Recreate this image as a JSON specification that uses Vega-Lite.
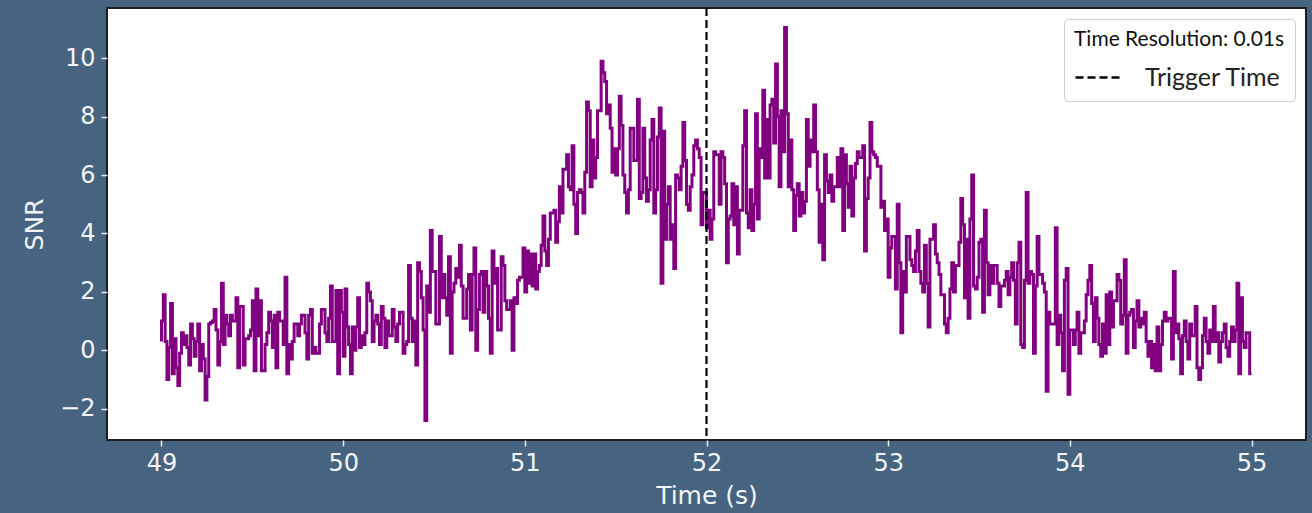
{
"$schema": "https://vega.github.io/schema/vega-lite/v6.json",
"width": 1199,
"height": 432,
"autosize": {"type": "none"},
"padding": {"left": 107, "top": 8, "right": 6, "bottom": 73},
"background": "#466480",
"config": {
  "view": {"fill": "white", "stroke": "#1c1c1c", "strokeWidth": 2},
  "axis": {"grid": false, "domain": false, "labelFont": "DejaVu Sans", "labelFontSize": 24, "labelColor": "#f2f4f6", "tickColor": "#e8ecef", "tickSize": 6, "tickWidth": 1.5, "titleFont": "DejaVu Sans", "titleFontSize": 25, "titleFontWeight": "normal", "titleColor": "#f2f4f6"}
},
"layer": [
  {
    "data": {"values": [
{"t":49.00,"v":0.3},{"t":49.01,"v":1.0},{"t":49.02,"v":1.9},{"t":49.03,"v":0.3},{"t":49.04,"v":-1.0},{"t":49.05,"v":0.1},{"t":49.06,"v":1.6},{"t":49.07,"v":-0.8},{"t":49.08,"v":0.4},{"t":49.09,"v":-0.6},
{"t":49.10,"v":-1.2},{"t":49.11,"v":-0.1},{"t":49.12,"v":0.6},{"t":49.13,"v":0.2},{"t":49.14,"v":0.5},{"t":49.15,"v":0.1},{"t":49.16,"v":-0.5},{"t":49.17,"v":0.9},{"t":49.18,"v":0.4},{"t":49.19,"v":-0.2},
{"t":49.20,"v":0.3},{"t":49.21,"v":0.9},{"t":49.22,"v":-0.7},{"t":49.23,"v":0.2},{"t":49.24,"v":-0.3},{"t":49.25,"v":-1.7},{"t":49.26,"v":-0.9},{"t":49.27,"v":0.9},{"t":49.28,"v":0.95},{"t":49.29,"v":1.0},
{"t":49.30,"v":1.4},{"t":49.31,"v":0.7},{"t":49.32,"v":-0.5},{"t":49.33,"v":0.3},{"t":49.34,"v":2.3},{"t":49.35,"v":0.2},{"t":49.36,"v":1.2},{"t":49.37,"v":0.9},{"t":49.38,"v":0.5},{"t":49.39,"v":1.2},
{"t":49.40,"v":1.0},{"t":49.41,"v":1.0},{"t":49.42,"v":1.8},{"t":49.43,"v":-0.6},{"t":49.44,"v":1.5},{"t":49.45,"v":1.5},{"t":49.46,"v":-0.5},{"t":49.47,"v":0.4},{"t":49.48,"v":0.4},{"t":49.49,"v":0.5},
{"t":49.50,"v":0.7},{"t":49.51,"v":1.7},{"t":49.52,"v":-0.7},{"t":49.53,"v":2.1},{"t":49.54,"v":0.5},{"t":49.55,"v":1.7},{"t":49.56,"v":-0.7},{"t":49.57,"v":-0.7},{"t":49.58,"v":0.2},{"t":49.59,"v":0.6},
{"t":49.60,"v":1.3},{"t":49.61,"v":1.0},{"t":49.62,"v":0.1},{"t":49.63,"v":1.2},{"t":49.64,"v":-0.6},{"t":49.65,"v":1.3},{"t":49.66,"v":1.0},{"t":49.67,"v":1.0},{"t":49.68,"v":0.2},{"t":49.69,"v":2.5},
{"t":49.70,"v":-0.8},{"t":49.71,"v":0.2},{"t":49.72,"v":-0.3},{"t":49.73,"v":0.3},{"t":49.74,"v":0.9},{"t":49.75,"v":0.9},{"t":49.76,"v":0.5},{"t":49.77,"v":0.9},{"t":49.78,"v":1.2},{"t":49.79,"v":1.2},
{"t":49.80,"v":0.6},{"t":49.81,"v":-0.3},{"t":49.82,"v":1.2},{"t":49.83,"v":1.4},{"t":49.84,"v":-0.1},{"t":49.85,"v":0.1},{"t":49.86,"v":-0.1},{"t":49.87,"v":-0.1},{"t":49.88,"v":0.9},{"t":49.89,"v":1.4},
{"t":49.90,"v":1.4},{"t":49.91,"v":0.6},{"t":49.92,"v":0.3},{"t":49.93,"v":1.1},{"t":49.94,"v":2.2},{"t":49.95,"v":0.3},{"t":49.96,"v":0.3},{"t":49.97,"v":2.05},{"t":49.98,"v":-0.8},{"t":49.99,"v":2.05},
{"t":50.00,"v":1.3},{"t":50.01,"v":-0.2},{"t":50.02,"v":2.1},{"t":50.03,"v":0.8},{"t":50.04,"v":0.2},{"t":50.05,"v":-0.8},{"t":50.06,"v":0.8},{"t":50.07,"v":0.0},{"t":50.08,"v":0.8},{"t":50.09,"v":1.8},
{"t":50.10,"v":0.1},{"t":50.11,"v":0.5},{"t":50.12,"v":0.2},{"t":50.13,"v":0.6},{"t":50.14,"v":2.3},{"t":50.15,"v":2.0},{"t":50.16,"v":1.7},{"t":50.17,"v":0.3},{"t":50.18,"v":1.0},{"t":50.19,"v":1.2},
{"t":50.20,"v":0.9},{"t":50.21,"v":0.2},{"t":50.22,"v":1.5},{"t":50.23,"v":1.1},{"t":50.24,"v":0.1},{"t":50.25,"v":1.0},{"t":50.26,"v":0.5},{"t":50.27,"v":0.5},{"t":50.28,"v":1.4},{"t":50.29,"v":0.8},
{"t":50.30,"v":0.3},{"t":50.31,"v":0.9},{"t":50.32,"v":1.3},{"t":50.33,"v":1.3},{"t":50.34,"v":-0.1},{"t":50.35,"v":0.2},{"t":50.36,"v":0.3},{"t":50.37,"v":2.9},{"t":50.38,"v":1.1},{"t":50.39,"v":0.3},
{"t":50.40,"v":1.0},{"t":50.41,"v":-0.5},{"t":50.42,"v":3.0},{"t":50.43,"v":2.7},{"t":50.44,"v":1.8},{"t":50.45,"v":0.7},{"t":50.46,"v":-2.4},{"t":50.47,"v":2.2},{"t":50.48,"v":1.3},{"t":50.49,"v":4.1},
{"t":50.50,"v":2.7},{"t":50.51,"v":2.7},{"t":50.52,"v":0.9},{"t":50.53,"v":0.9},{"t":50.54,"v":3.9},{"t":50.55,"v":1.8},{"t":50.56,"v":2.6},{"t":50.57,"v":1.8},{"t":50.58,"v":1.2},{"t":50.59,"v":3.2},
{"t":50.60,"v":-0.1},{"t":50.61,"v":2.0},{"t":50.62,"v":2.3},{"t":50.63,"v":2.8},{"t":50.64,"v":2.5},{"t":50.65,"v":3.6},{"t":50.66,"v":2.2},{"t":50.67,"v":1.1},{"t":50.68,"v":1.1},{"t":50.69,"v":2.1},
{"t":50.70,"v":2.6},{"t":50.71,"v":0.7},{"t":50.72,"v":2.6},{"t":50.73,"v":3.5},{"t":50.74,"v":0.0},{"t":50.75,"v":1.4},{"t":50.76,"v":2.6},{"t":50.77,"v":2.7},{"t":50.78,"v":1.3},{"t":50.79,"v":2.7},
{"t":50.80,"v":2.2},{"t":50.81,"v":1.1},{"t":50.82,"v":-0.1},{"t":50.83,"v":3.4},{"t":50.84,"v":2.3},{"t":50.85,"v":2.8},{"t":50.86,"v":0.7},{"t":50.87,"v":0.7},{"t":50.88,"v":3.2},{"t":50.89,"v":2.9},
{"t":50.90,"v":1.7},{"t":50.91,"v":1.4},{"t":50.92,"v":1.4},{"t":50.93,"v":1.7},{"t":50.94,"v":0.0},{"t":50.95,"v":1.8},{"t":50.96,"v":1.6},{"t":50.97,"v":2.4},{"t":50.98,"v":2.5},{"t":50.99,"v":2.5},
{"t":51.00,"v":3.5},{"t":51.01,"v":2.0},{"t":51.02,"v":3.4},{"t":51.03,"v":2.3},{"t":51.04,"v":3.3},{"t":51.05,"v":2.2},{"t":51.06,"v":3.3},{"t":51.07,"v":2.1},{"t":51.08,"v":2.7},{"t":51.09,"v":2.9},
{"t":51.10,"v":3.6},{"t":51.11,"v":4.6},{"t":51.12,"v":3.4},{"t":51.13,"v":2.9},{"t":51.14,"v":3.8},{"t":51.15,"v":4.7},{"t":51.16,"v":4.7},{"t":51.17,"v":4.8},{"t":51.18,"v":3.7},{"t":51.19,"v":4.4},
{"t":51.20,"v":5.6},{"t":51.21,"v":4.7},{"t":51.22,"v":6.2},{"t":51.23,"v":6.2},{"t":51.24,"v":6.7},{"t":51.25,"v":5.6},{"t":51.26,"v":5.5},{"t":51.27,"v":7.0},{"t":51.28,"v":5.0},{"t":51.29,"v":4.0},
{"t":51.30,"v":5.4},{"t":51.31,"v":5.5},{"t":51.32,"v":5.4},{"t":51.33,"v":4.7},{"t":51.34,"v":6.1},{"t":51.35,"v":8.5},{"t":51.36,"v":8.2},{"t":51.37,"v":5.6},{"t":51.38,"v":7.2},{"t":51.39,"v":5.9},
{"t":51.40,"v":6.6},{"t":51.41,"v":8.2},{"t":51.42,"v":8.2},{"t":51.43,"v":9.9},{"t":51.44,"v":9.5},{"t":51.45,"v":9.2},{"t":51.46,"v":8.1},{"t":51.47,"v":8.4},{"t":51.48,"v":7.6},{"t":51.49,"v":6.1},
{"t":51.50,"v":6.9},{"t":51.51,"v":6.0},{"t":51.52,"v":6.9},{"t":51.53,"v":8.7},{"t":51.54,"v":7.7},{"t":51.55,"v":6.0},{"t":51.56,"v":5.4},{"t":51.57,"v":4.7},{"t":51.58,"v":5.5},{"t":51.59,"v":7.6},
{"t":51.60,"v":7.6},{"t":51.61,"v":6.5},{"t":51.62,"v":6.5},{"t":51.63,"v":8.6},{"t":51.64,"v":5.2},{"t":51.65,"v":5.4},{"t":51.66,"v":7.6},{"t":51.67,"v":5.9},{"t":51.68,"v":5.1},{"t":51.69,"v":5.5},
{"t":51.70,"v":7.2},{"t":51.71,"v":7.9},{"t":51.72,"v":4.7},{"t":51.73,"v":5.5},{"t":51.74,"v":7.3},{"t":51.75,"v":8.3},{"t":51.76,"v":2.3},{"t":51.77,"v":7.5},{"t":51.78,"v":3.8},{"t":51.79,"v":5.0},
{"t":51.80,"v":5.6},{"t":51.81,"v":3.8},{"t":51.82,"v":4.3},{"t":51.83,"v":2.8},{"t":51.84,"v":6.0},{"t":51.85,"v":5.9},{"t":51.86,"v":5.5},{"t":51.87,"v":6.3},{"t":51.88,"v":7.8},{"t":51.89,"v":6.5},
{"t":51.90,"v":5.0},{"t":51.91,"v":4.8},{"t":51.92,"v":5.6},{"t":51.93,"v":6.0},{"t":51.94,"v":7.0},{"t":51.95,"v":7.2},{"t":51.96,"v":6.9},{"t":51.97,"v":6.6},{"t":51.98,"v":4.3},{"t":51.99,"v":5.4},
{"t":52.00,"v":5.4},{"t":52.01,"v":4.2},{"t":52.02,"v":4.8},{"t":52.03,"v":3.8},{"t":52.04,"v":4.5},{"t":52.05,"v":6.8},{"t":52.06,"v":6.7},{"t":52.07,"v":6.7},{"t":52.08,"v":5.0},{"t":52.09,"v":6.8},
{"t":52.10,"v":6.6},{"t":52.11,"v":5.7},{"t":52.12,"v":3.0},{"t":52.13,"v":4.5},{"t":52.14,"v":4.6},{"t":52.15,"v":5.7},{"t":52.16,"v":4.3},{"t":52.17,"v":5.6},{"t":52.18,"v":3.3},{"t":52.19,"v":4.8},
{"t":52.20,"v":4.8},{"t":52.21,"v":7.0},{"t":52.22,"v":8.2},{"t":52.23,"v":4.7},{"t":52.24,"v":4.2},{"t":52.25,"v":5.5},{"t":52.26,"v":4.1},{"t":52.27,"v":5.0},{"t":52.28,"v":8.1},{"t":52.29,"v":4.5},
{"t":52.30,"v":6.9},{"t":52.31,"v":6.6},{"t":52.32,"v":8.9},{"t":52.33,"v":5.9},{"t":52.34,"v":7.9},{"t":52.35,"v":5.9},{"t":52.36,"v":8.4},{"t":52.37,"v":8.6},{"t":52.38,"v":7.1},{"t":52.39,"v":9.8},
{"t":52.40,"v":8.0},{"t":52.41,"v":5.6},{"t":52.42,"v":8.2},{"t":52.43,"v":6.8},{"t":52.44,"v":11.05},{"t":52.45,"v":8.1},{"t":52.46,"v":5.6},{"t":52.47,"v":7.2},{"t":52.48,"v":5.5},{"t":52.49,"v":4.1},
{"t":52.50,"v":5.3},{"t":52.51,"v":5.7},{"t":52.52,"v":4.6},{"t":52.53,"v":5.4},{"t":52.54,"v":4.7},{"t":52.55,"v":5.1},{"t":52.56,"v":7.9},{"t":52.57,"v":6.3},{"t":52.58,"v":7.2},{"t":52.59,"v":6.8},
{"t":52.60,"v":8.4},{"t":52.61,"v":6.8},{"t":52.62,"v":5.5},{"t":52.63,"v":3.7},{"t":52.64,"v":5.0},{"t":52.65,"v":3.1},{"t":52.66,"v":6.7},{"t":52.67,"v":5.8},{"t":52.68,"v":5.4},{"t":52.69,"v":6.0},
{"t":52.70,"v":5.1},{"t":52.71,"v":5.6},{"t":52.72,"v":5.6},{"t":52.73,"v":6.6},{"t":52.74,"v":5.6},{"t":52.75,"v":6.9},{"t":52.76,"v":4.1},{"t":52.77,"v":6.7},{"t":52.78,"v":5.7},{"t":52.79,"v":4.9},
{"t":52.80,"v":6.3},{"t":52.81,"v":4.6},{"t":52.82,"v":5.9},{"t":52.83,"v":6.4},{"t":52.84,"v":6.8},{"t":52.85,"v":6.6},{"t":52.86,"v":6.6},{"t":52.87,"v":7.0},{"t":52.88,"v":3.4},{"t":52.89,"v":5.2},
{"t":52.90,"v":5.9},{"t":52.91,"v":7.8},{"t":52.92,"v":6.8},{"t":52.93,"v":6.7},{"t":52.94,"v":6.6},{"t":52.95,"v":6.3},{"t":52.96,"v":6.3},{"t":52.97,"v":4.9},{"t":52.98,"v":5.1},{"t":52.99,"v":4.1},
{"t":53.00,"v":4.5},{"t":53.01,"v":2.5},{"t":53.02,"v":3.5},{"t":53.03,"v":3.9},{"t":53.04,"v":3.9},{"t":53.05,"v":2.1},{"t":53.06,"v":5.0},{"t":53.07,"v":3.0},{"t":53.08,"v":0.6},{"t":53.09,"v":2.7},
{"t":53.10,"v":2.0},{"t":53.11,"v":3.9},{"t":53.12,"v":3.9},{"t":53.13,"v":3.1},{"t":53.14,"v":2.9},{"t":53.15,"v":2.7},{"t":53.16,"v":3.4},{"t":53.17,"v":4.1},{"t":53.18,"v":2.7},{"t":53.19,"v":2.3},
{"t":53.20,"v":2.0},{"t":53.21,"v":3.6},{"t":53.22,"v":2.3},{"t":53.23,"v":0.8},{"t":53.24,"v":3.8},{"t":53.25,"v":3.8},{"t":53.26,"v":4.3},{"t":53.27,"v":3.3},{"t":53.28,"v":3.0},{"t":53.29,"v":2.6},
{"t":53.30,"v":1.9},{"t":53.31,"v":1.9},{"t":53.32,"v":0.9},{"t":53.33,"v":0.6},{"t":53.34,"v":1.1},{"t":53.35,"v":2.1},{"t":53.36,"v":3.0},{"t":53.37,"v":2.0},{"t":53.38,"v":2.9},{"t":53.39,"v":2.9},
{"t":53.40,"v":3.7},{"t":53.41,"v":5.2},{"t":53.42,"v":4.3},{"t":53.43,"v":1.8},{"t":53.44,"v":3.8},{"t":53.45,"v":1.1},{"t":53.46,"v":4.5},{"t":53.47,"v":6.0},{"t":53.48,"v":2.2},{"t":53.49,"v":2.1},
{"t":53.50,"v":2.5},{"t":53.51,"v":3.7},{"t":53.52,"v":3.8},{"t":53.53,"v":1.3},{"t":53.54,"v":4.8},{"t":53.55,"v":3.0},{"t":53.56,"v":1.9},{"t":53.57,"v":2.9},{"t":53.58,"v":2.3},{"t":53.59,"v":2.9},
{"t":53.60,"v":2.9},{"t":53.61,"v":2.3},{"t":53.62,"v":1.5},{"t":53.63,"v":2.2},{"t":53.64,"v":2.2},{"t":53.65,"v":2.4},{"t":53.66,"v":2.7},{"t":53.67,"v":1.9},{"t":53.68,"v":2.5},{"t":53.69,"v":3.0},
{"t":53.70,"v":2.4},{"t":53.71,"v":0.9},{"t":53.72,"v":3.0},{"t":53.73,"v":3.7},{"t":53.74,"v":0.2},{"t":53.75,"v":0.1},{"t":53.76,"v":2.4},{"t":53.77,"v":5.4},{"t":53.78,"v":2.3},{"t":53.79,"v":2.7},
{"t":53.80,"v":2.6},{"t":53.81,"v":-0.1},{"t":53.82,"v":2.2},{"t":53.83,"v":3.9},{"t":53.84,"v":2.6},{"t":53.85,"v":2.6},{"t":53.86,"v":2.3},{"t":53.87,"v":2.0},{"t":53.88,"v":-1.4},{"t":53.89,"v":1.3},
{"t":53.90,"v":0.9},{"t":53.91,"v":0.9},{"t":53.92,"v":0.9},{"t":53.93,"v":4.2},{"t":53.94,"v":0.2},{"t":53.95,"v":1.2},{"t":53.96,"v":0.6},{"t":53.97,"v":-0.7},{"t":53.98,"v":2.4},{"t":53.99,"v":2.8},
{"t":54.00,"v":-1.5},{"t":54.01,"v":0.7},{"t":54.02,"v":0.7},{"t":54.03,"v":0.2},{"t":54.04,"v":0.7},{"t":54.05,"v":1.3},{"t":54.06,"v":-0.1},{"t":54.07,"v":0.6},{"t":54.08,"v":0.6},{"t":54.09,"v":1.0},
{"t":54.10,"v":1.9},{"t":54.11,"v":2.4},{"t":54.12,"v":2.9},{"t":54.13,"v":1.6},{"t":54.14,"v":0.3},{"t":54.15,"v":1.8},{"t":54.16,"v":1.1},{"t":54.17,"v":0.2},{"t":54.18,"v":-0.2},{"t":54.19,"v":0.9},
{"t":54.20,"v":-0.1},{"t":54.21,"v":1.9},{"t":54.22,"v":0.2},{"t":54.23,"v":2.0},{"t":54.24,"v":0.8},{"t":54.25,"v":1.7},{"t":54.26,"v":1.7},{"t":54.27,"v":2.6},{"t":54.28,"v":2.4},{"t":54.29,"v":0.9},
{"t":54.30,"v":1.2},{"t":54.31,"v":3.1},{"t":54.32,"v":-0.1},{"t":54.33,"v":1.2},{"t":54.34,"v":1.3},{"t":54.35,"v":1.4},{"t":54.36,"v":0.1},{"t":54.37,"v":1.0},{"t":54.38,"v":1.7},{"t":54.39,"v":0.8},
{"t":54.40,"v":1.1},{"t":54.41,"v":0.9},{"t":54.42,"v":1.3},{"t":54.43,"v":0.3},{"t":54.44,"v":-0.2},{"t":54.45,"v":0.3},{"t":54.46,"v":-0.6},{"t":54.47,"v":0.2},{"t":54.48,"v":-0.7},{"t":54.49,"v":0.8},
{"t":54.50,"v":-0.7},{"t":54.51,"v":0.2},{"t":54.52,"v":1.0},{"t":54.53,"v":1.3},{"t":54.54,"v":1.0},{"t":54.55,"v":1.1},{"t":54.56,"v":1.1},{"t":54.57,"v":-0.3},{"t":54.58,"v":2.7},{"t":54.59,"v":0.6},
{"t":54.60,"v":0.9},{"t":54.61,"v":0.4},{"t":54.62,"v":-0.8},{"t":54.63,"v":0.5},{"t":54.64,"v":1.0},{"t":54.65,"v":0.3},{"t":54.66,"v":-0.3},{"t":54.67,"v":0.9},{"t":54.68,"v":0.5},{"t":54.69,"v":0.5},
{"t":54.70,"v":1.5},{"t":54.71,"v":-0.6},{"t":54.72,"v":-1.0},{"t":54.73,"v":-0.6},{"t":54.74,"v":0.5},{"t":54.75,"v":1.1},{"t":54.76,"v":0.3},{"t":54.77,"v":-0.1},{"t":54.78,"v":0.7},{"t":54.79,"v":0.3},
{"t":54.80,"v":1.5},{"t":54.81,"v":0.3},{"t":54.82,"v":0.6},{"t":54.83,"v":-0.4},{"t":54.84,"v":0.3},{"t":54.85,"v":0.6},{"t":54.86,"v":0.9},{"t":54.87,"v":0.1},{"t":54.88,"v":-0.2},{"t":54.89,"v":0.3},
{"t":54.90,"v":0.8},{"t":54.91,"v":0.3},{"t":54.92,"v":0.7},{"t":54.93,"v":2.3},{"t":54.94,"v":-0.8},{"t":54.95,"v":1.8},{"t":54.96,"v":0.3},{"t":54.97,"v":0.1},{"t":54.98,"v":0.6},{"t":54.99,"v":0.6},
{"t":55.00,"v":-0.8}
    ]},
    "mark": {"type": "line", "interpolate": "step-before", "color": "#800080", "strokeWidth": 3, "clip": true},
    "encoding": {
      "x": {"field": "t", "type": "quantitative", "scale": {"domain": [48.7, 55.3], "nice": false, "zero": false},
            "axis": {"title": "Time (s)", "values": [49, 50, 51, 52, 53, 54, 55], "format": "d", "labelPadding": 5, "titlePadding": 8}},
      "y": {"field": "v", "type": "quantitative", "scale": {"domain": [-3.07, 11.72], "nice": false, "zero": false},
            "axis": {"title": "SNR", "values": [-2, 0, 2, 4, 6, 8, 10], "format": "d", "labelPadding": 6, "titlePadding": 12}}
    }
  },
  {
    "data": {"values": [{"t": 52, "label": "Trigger Time"}]},
    "mark": {"type": "rule", "color": "black", "strokeWidth": 2.2},
    "encoding": {
      "x": {"field": "t", "type": "quantitative"},
      "strokeDash": {"field": "label", "type": "nominal", "scale": {"range": [[8, 4]]},
        "legend": {"orient": "top-right", "offset": 11, "title": "Time Resolution: 0.01s", "titleLimit": 500, "titleFont": "Lato", "titleFontSize": 21, "titleFontWeight": "normal", "titleColor": "#111111", "titlePadding": 2,
                   "labelFont": "Lato", "labelFontSize": 25, "labelLimit": 500, "labelColor": "#222222", "labelOffset": 20,
                   "fillColor": "white", "strokeColor": "#cfcfcf", "cornerRadius": 4, "padding": 10,
                   "symbolType": "stroke", "symbolSize": 2300, "symbolStrokeWidth": 2.5, "symbolStrokeColor": "black"}}
    }
  }
]
}
